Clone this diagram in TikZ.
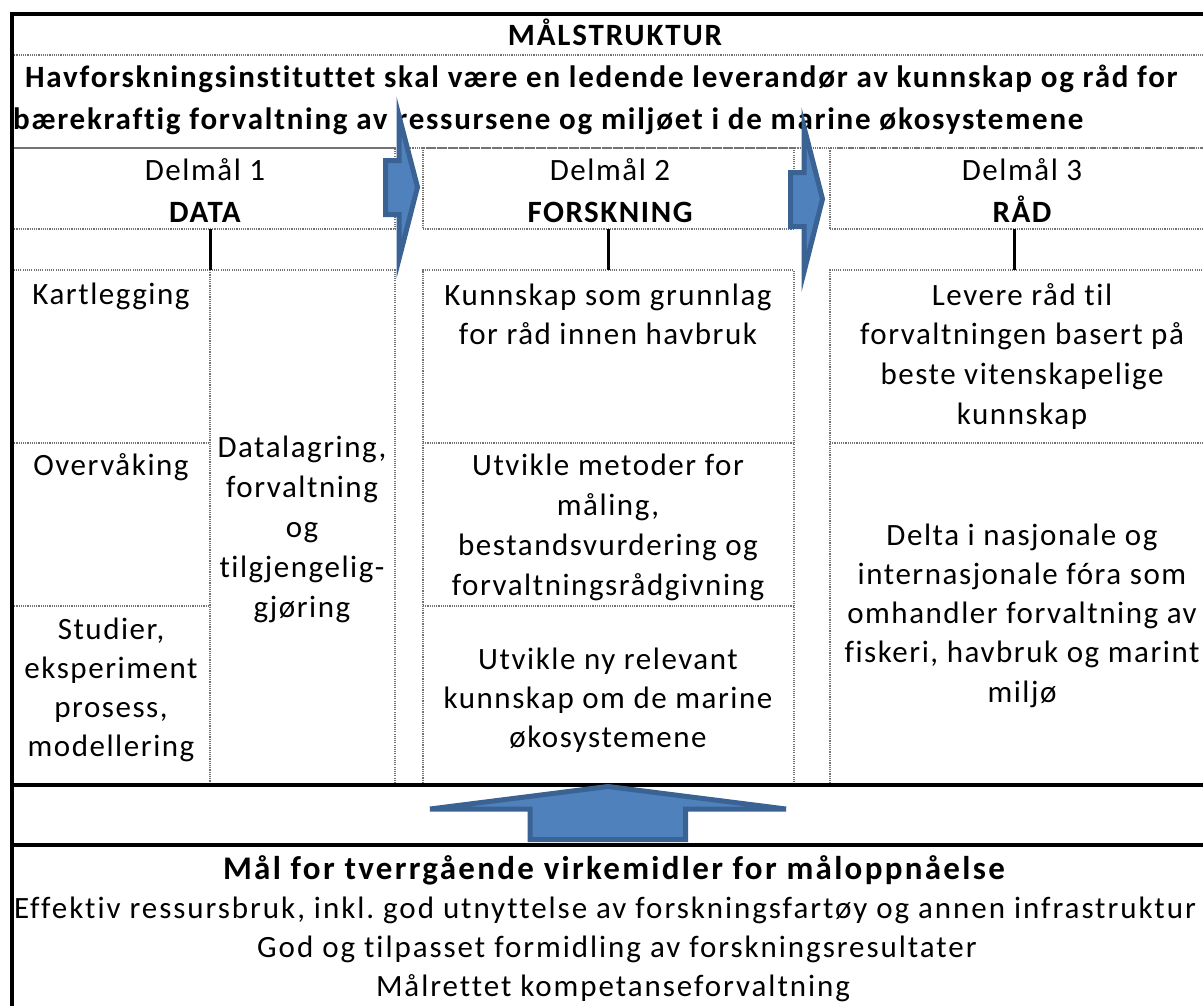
\documentclass[tikz,border=0pt]{standalone}
\usepackage{fontspec}
\setmainfont[Ligatures=NoCommon]{Carlito}
\newfontfamily\wfont[LetterSpace=5,Ligatures=NoCommon]{Carlito}
\newfontfamily\hfont[LetterSpace=5.6,Ligatures=NoCommon]{Carlito}
\newfontfamily\tfont[LetterSpace=6,Ligatures=NoCommon]{Carlito}
\newfontfamily\mfont[LetterSpace=7,Ligatures=NoCommon]{Carlito}
\newfontfamily\bfont[LetterSpace=6.3,Ligatures=NoCommon]{Carlito}
\frenchspacing
\definecolor{arrfill}{HTML}{4F81BD}
\definecolor{arrline}{HTML}{3A6394}
\newcommand\tlines[6]{%
  \foreach \l [count=\i from 0] in {#6} {\node[#5, anchor=base] (#1-\i) at ({#2},{#3+#4*\i}) {\l};}}
\begin{document}
\begin{tikzpicture}[x=1pt,y=-1pt,
  cell/.style={draw=black!55, line width=2.2pt, dash pattern=on 1.1pt off 1.1pt, inner sep=0pt, outer sep=0pt, anchor=north west},
  grid/.style={draw=black!55, line width=2.2pt, dash pattern=on 1.1pt off 1.1pt},
  frame/.style={line width=4pt, black},
  conn/.style={line width=3pt, black},
  arr/.style={fill=arrfill, draw=arrline, line width=5pt},
  body/.style={font=\wfont\fontsize{31}{36}\selectfont, inner sep=0pt},
  bbody/.style={font=\wfont\bfseries\fontsize{31}{36}\selectfont, inner sep=0pt},
  ttl/.style={font=\tfont\bfseries\fontsize{31}{36}\selectfont, inner sep=0pt},
  hav/.style={font=\hfont\bfseries\fontsize{31}{36}\selectfont, inner sep=0pt},
  bot/.style={font=\bfont\fontsize{31}{36}\selectfont, inner sep=0pt},
  bbot/.style={font=\mfont\bfseries\fontsize{33}{38}\selectfont, inner sep=0pt}]
\useasboundingbox (0,0) rectangle (1203,1005);
\fill[white] (0,0) rectangle (1203,1005);
\clip (0,0) rectangle (1203,1005);
% header rows
\draw[grid] (12,55) -- (1214,55);
\draw[grid] (12,148) -- (1214,148);
% Delmaal boxes
\node[cell, minimum width=383pt, minimum height=81pt] (d1) at (12,148) {};
\node[cell, minimum width=371pt, minimum height=81pt] (d2) at (423,148) {};
\node[cell, minimum width=384pt, minimum height=81pt] (d3) at (830,148) {};
% lower columns
\node[cell, minimum width=383pt, minimum height=515pt] (c1) at (12,270) {};
\node[cell, minimum width=371pt, minimum height=515pt] (c2) at (423,270) {};
\node[cell, minimum width=384pt, minimum height=515pt] (c3) at (830,270) {};
\draw[grid] (210,270) -- (210,785);
\draw[grid] (12,443) -- (210,443);
\draw[grid] (12,606) -- (210,606);
\draw[grid] (423,443) -- (794,443);
\draw[grid] (423,606) -- (794,606);
\draw[grid] (830,443) -- (1214,443);
% frame
\draw[frame] (12,1010) -- (12,14) -- (1214,14);
\draw[frame] (12,785) -- (1214,785);
\draw[frame] (12,845) -- (1214,845);
% connectors
\coordinate (v1) at (210,0);
\coordinate (v3) at (1014,0);
\draw[conn] (d1.south -| v1) -- (c1.north -| v1);
\draw[conn] (d2.south) -- (c2.north);
\draw[conn] (d3.south -| v3) -- (c3.north -| v3);
% texts
\node[ttl, anchor=base] (title) at (615,45) {MÅLSTRUKTUR};
\node[hav, anchor=base west] (hav1) at (25,87) {Havforskningsinstituttet skal være en ledende leverandør av kunnskap og råd for};
\node[hav, anchor=base west] (hav2) at (13,129) {bærekraftig forvaltning av ressursene og miljøet i de marine økosystemene};
\node[body, anchor=base] (dl1) at (205,180) {Delmål 1};
\node[bbody, anchor=base] (dn1) at (205,222) {DATA};
\node[body, anchor=base] (dl2) at (610,180) {Delmål 2};
\node[bbody, anchor=base] (dn2) at (610,222) {FORSKNING};
\node[body, anchor=base] (dl3) at (1022,180) {Delmål 3};
\node[bbody, anchor=base] (dn3) at (1022,222) {RÅD};
\node[body, anchor=base] (kart) at (111,304) {Kartlegging};
\node[body, anchor=base] (overv) at (111,475) {Overvåking};
\tlines{stud}{111}{639}{39.3}{body}{{Studier,},eksperiment,{prosess,},modellering}
\tlines{datal}{302}{457}{40}{body}{{Datalagring,},forvaltning,og,tilgjengelig-,gjøring}
\tlines{kunn}{608}{305}{39}{body}{Kunnskap som grunnlag,for råd innen havbruk}
\tlines{metod}{608}{475}{40}{body}{Utvikle metoder for,{måling,},bestandsvurdering og,forvaltningsrådgivning}
\tlines{nyrel}{608}{669}{39}{body}{Utvikle ny relevant,kunnskap om de marine,økosystemene}
\tlines{lev}{1022}{305}{39.7}{body}{Levere råd til,forvaltningen basert på,beste vitenskapelige,kunnskap}
\tlines{delta}{1022}{545}{39.3}{body}{Delta i nasjonale og,internasjonale fóra som,omhandler forvaltning av,{fiskeri, havbruk og marint},miljø}
\node[bbot, anchor=base] (maal) at (614,879) {Mål for tverrgående virkemidler for måloppnåelse};
\node[bot, anchor=base] (tv-0) at (605,918) {Effektiv ressursbruk, inkl. god utnyttelse av forskningsfartøy og annen infrastruktur};
\node[bot, anchor=base] (tv-1) at (617,957) {God og tilpasset formidling av forskningsresultater};
\node[bot, anchor=base] (tv-2) at (613,996) {Målrettet kompetanseforvaltning};
% arrows
\draw[arr] (385.5,160.5) -- (399,160.5) -- (399,116) -- (417.5,187) -- (399,259) -- (399,214.5) -- (385.5,214.5) -- cycle;
\draw[arr] (790.5,172.5) -- (804,172.5) -- (804,127) -- (822.5,199) -- (804,272) -- (804,226.5) -- (790.5,226.5) -- cycle;
\draw[arr] (530,839.5) -- (530,809) -- (430,809) -- (608,786.5) -- (786,809) -- (685.5,809) -- (685.5,839.5) -- cycle;
\end{tikzpicture}
\end{document}
